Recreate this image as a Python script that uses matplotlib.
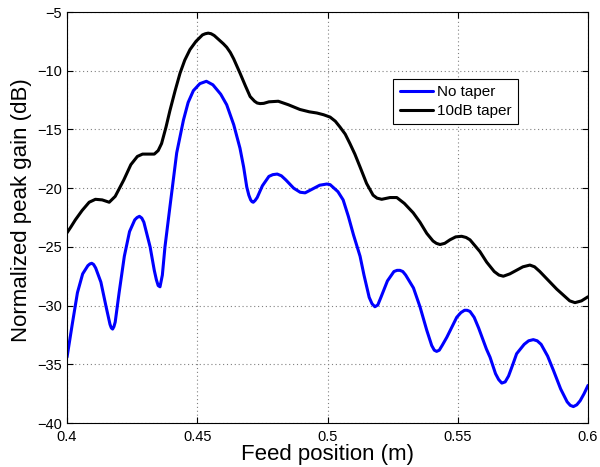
import matplotlib
matplotlib.use("Agg")
import matplotlib.pyplot as plt

plt.rcParams['font.family'] = ['Liberation Sans', 'DejaVu Sans']

# feed position (m) and normalized peak gain (dB)
x_none = [0.4000, 0.4020, 0.4040, 0.4060, 0.4080, 0.4088, 0.4095, 0.4102, 0.4110, 0.4130,
          0.4150, 0.4165, 0.4170, 0.4175, 0.4180, 0.4185, 0.4200, 0.4220, 0.4240, 0.4260,
          0.4269, 0.4278, 0.4287, 0.4295, 0.4319, 0.4335, 0.4343, 0.4350, 0.4357, 0.4366,
          0.4376, 0.4395, 0.4421, 0.4447, 0.4465, 0.4485, 0.4510, 0.4535, 0.4560, 0.4590,
          0.4613, 0.4640, 0.4664, 0.4678, 0.4690, 0.4698, 0.4705, 0.4710, 0.4715, 0.4722,
          0.4730, 0.4750, 0.4775, 0.4790, 0.4807, 0.4823, 0.4840, 0.4870, 0.4895, 0.4914,
          0.4940, 0.4970, 0.4997, 0.5010, 0.5025, 0.5040, 0.5060, 0.5080, 0.5100, 0.5125,
          0.5140, 0.5160, 0.5171, 0.5182, 0.5193, 0.5205, 0.5230, 0.5255, 0.5267, 0.5278,
          0.5289, 0.5300, 0.5330, 0.5355, 0.5381, 0.5400, 0.5410, 0.5419, 0.5429, 0.5440,
          0.5458, 0.5496, 0.5512, 0.5526, 0.5536, 0.5547, 0.5563, 0.5580, 0.5610, 0.5624,
          0.5645, 0.5657, 0.5669, 0.5682, 0.5695, 0.5710, 0.5726, 0.5755, 0.5772, 0.5790,
          0.5805, 0.5820, 0.5845, 0.5867, 0.5895, 0.5920, 0.5932, 0.5944, 0.5957, 0.5970,
          0.5985, 0.6000]
g_none = [-34.4, -31.6, -28.9, -27.3, -26.6, -26.45, -26.4, -26.5, -26.8, -28.0,
          -30.1, -31.6, -31.9, -32.0, -31.8, -31.4, -28.9, -25.8, -23.7, -22.7,
          -22.5, -22.4, -22.55, -22.9, -25.0, -27.0, -27.8, -28.3, -28.4, -27.4,
          -25.0, -21.6, -17.0, -14.2, -12.7, -11.7, -11.1, -10.9, -11.2, -12.0,
          -12.9, -14.6, -16.6, -18.2, -19.9, -20.6, -21.0, -21.15, -21.2, -21.05,
          -20.8, -19.8, -19.0, -18.85, -18.8, -18.95, -19.3, -20.0, -20.35, -20.4,
          -20.1, -19.75, -19.65, -19.7, -20.0, -20.3, -21.0, -22.4, -24.0, -25.8,
          -27.4, -29.3, -29.85, -30.1, -29.95, -29.3, -27.9, -27.1, -27.0, -27.0,
          -27.1, -27.4, -28.5, -30.1, -32.1, -33.4, -33.8, -33.9, -33.8, -33.4,
          -32.7, -31.0, -30.6, -30.4, -30.4, -30.5, -31.0, -31.9, -33.7, -34.4,
          -35.8, -36.3, -36.6, -36.5, -36.0, -35.1, -34.1, -33.3, -33.0, -32.9,
          -33.0, -33.3, -34.3, -35.5, -37.1, -38.2, -38.5, -38.6, -38.45, -38.1,
          -37.5, -36.8]

x_taper = [0.4000, 0.4015, 0.4032, 0.4058, 0.4085, 0.4109, 0.4135, 0.4162, 0.4185, 0.4218,
           0.4245, 0.4270, 0.4290, 0.4315, 0.4335, 0.4350, 0.4363, 0.4380, 0.4395, 0.4415,
           0.4434, 0.4452, 0.4472, 0.4495, 0.4520, 0.4531, 0.4542, 0.4553, 0.4565, 0.4590,
           0.4600, 0.4613, 0.4627, 0.4640, 0.4664, 0.4685, 0.4703, 0.4720, 0.4730, 0.4741,
           0.4755, 0.4775, 0.4811, 0.4850, 0.4894, 0.4930, 0.4959, 0.4985, 0.5010, 0.5030,
           0.5048, 0.5068, 0.5086, 0.5105, 0.5125, 0.5150, 0.5175, 0.5190, 0.5208, 0.5240,
           0.5266, 0.5295, 0.5329, 0.5355, 0.5381, 0.5405, 0.5418, 0.5432, 0.5450, 0.5470,
           0.5492, 0.5515, 0.5532, 0.5547, 0.5585, 0.5611, 0.5640, 0.5658, 0.5675, 0.5700,
           0.5725, 0.5750, 0.5777, 0.5795, 0.5815, 0.5854, 0.5880, 0.5905, 0.5930, 0.5950,
           0.5975, 0.6000]
g_taper = [-23.8, -23.3, -22.7, -21.9, -21.2, -20.95, -21.0, -21.2, -20.7, -19.3,
           -18.0, -17.3, -17.1, -17.1, -17.1, -16.8, -16.2, -14.8, -13.4, -11.7,
           -10.2, -9.1, -8.2, -7.5, -6.95, -6.85, -6.8, -6.85, -7.0, -7.5,
           -7.7, -8.0, -8.45, -9.0, -10.2, -11.3, -12.2, -12.6, -12.75, -12.8,
           -12.78, -12.65, -12.6, -12.9, -13.3, -13.5, -13.6, -13.75, -13.95, -14.3,
           -14.8, -15.4, -16.2, -17.1, -18.2, -19.6, -20.6, -20.85, -20.95, -20.8,
           -20.8, -21.3, -22.1, -22.9, -23.85, -24.5, -24.7, -24.8, -24.7, -24.4,
           -24.15, -24.1, -24.2, -24.4, -25.4, -26.3, -27.1, -27.4, -27.5, -27.3,
           -27.0, -26.7, -26.55, -26.7, -27.1, -28.0, -28.6, -29.1, -29.6, -29.75,
           -29.6, -29.25]

labels = ['No taper', '10dB taper']
xticks = [0.4, 0.45, 0.5, 0.55, 0.6]
xticklabels = ['0.4', '0.45', '0.5', '0.55', '0.6']
yticks = [-40, -35, -30, -25, -20, -15, -10, -5]

fig = plt.figure(figsize=(6, 4.67), dpi=100)
ax = fig.add_axes([0.1117, 0.0942, 0.8683, 0.8801])

ax.plot(x_none, g_none, color='#0000ff', lw=2.2, label=labels[0],
        solid_joinstyle='round', solid_capstyle='round')
ax.plot(x_taper, g_taper, color='black', lw=2.2, label=labels[1],
        solid_joinstyle='round', solid_capstyle='round')

ax.set_xlim(0.4, 0.6)
ax.set_ylim(-40, -5)
ax.set_xticks(xticks)
ax.set_xticklabels(xticklabels)
ax.set_yticks(yticks)
ax.grid(True, linestyle=(0, (1, 2.5)), color='0.5', lw=0.8)
ax.tick_params(direction='in', top=True, right=True, labelsize=10.5, length=4, width=0.8)
ax.tick_params(axis='x', pad=5)
for s in ax.spines.values():
    s.set_linewidth(0.8)

ax.set_xlabel('Feed position (m)', fontsize=16, labelpad=0)
ax.set_ylabel('Normalized peak gain (dB)', fontsize=16)
ax.yaxis.set_label_coords(-0.067, 0.518)

leg = ax.legend(loc='upper left', bbox_to_anchor=(0.626, 0.837), fontsize=11,
                fancybox=False, framealpha=1, edgecolor='black',
                handlelength=2.2, handletextpad=0.27, borderpad=0.42,
                labelspacing=0.3, borderaxespad=0)
leg.get_frame().set_linewidth(0.8)

fig.savefig('out.png', dpi=100)
